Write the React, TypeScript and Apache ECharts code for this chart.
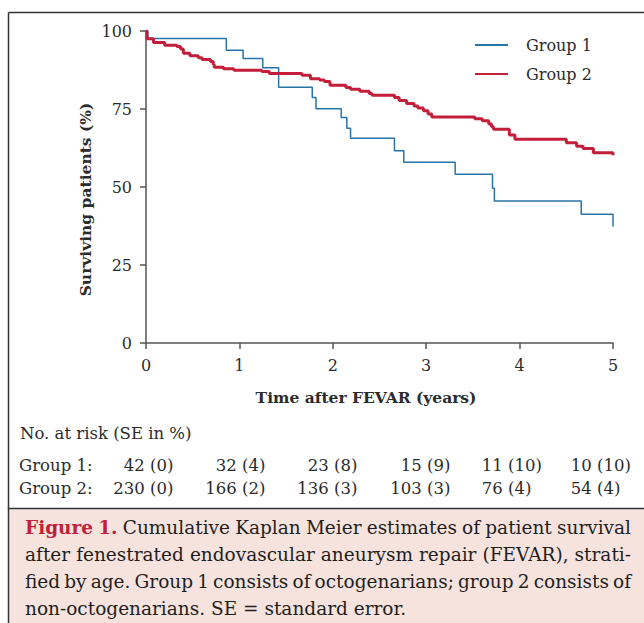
import React, { useEffect, useRef } from "react";
import * as echarts from "echarts";

// ---------- data ----------
const xTickValues = [0, 1, 2, 3, 4, 5];
const yTickValues = [0, 25, 50, 75, 100];
const seriesNames = ["Group 1", "Group 2"];

const group1Time = [0, 0.02, 0.86, 1.04, 1.25, 1.42, 1.78, 1.82, 2.09, 2.15, 2.19, 2.66, 2.76, 3.31, 3.71, 3.73, 4.66, 5.0];
const group1Surv = [100, 97.6, 93.8, 91.2, 88.2, 82.0, 78.7, 75.1, 72.3, 68.8, 65.6, 61.6, 57.9, 54.1, 49.6, 45.5, 41.3, 37.3];

const group2Time = [0, 0.01, 0.08, 0.2, 0.33, 0.37, 0.4, 0.47, 0.56, 0.6, 0.69, 0.72, 0.73, 0.83, 0.94, 1.24, 1.32, 1.67, 1.76, 1.86, 1.91, 1.97, 2.14, 2.19, 2.29, 2.39, 2.42, 2.66, 2.71, 2.79, 2.87, 2.91, 2.97, 3.02, 3.06, 3.52, 3.6, 3.67, 3.7, 3.72, 3.89, 3.95, 4.5, 4.61, 4.68, 4.79, 5.0];
const group2Surv = [100, 97.5, 96.3, 95.4, 95.0, 94.2, 92.9, 92.1, 91.4, 90.9, 90.2, 89.3, 88.4, 87.9, 87.4, 87.0, 86.4, 85.8, 84.7, 84.3, 83.8, 82.6, 81.9, 81.3, 80.7, 80.0, 79.4, 78.7, 77.7, 76.8, 76.0, 75.3, 74.4, 73.4, 72.4, 71.9, 71.2, 70.2, 69.3, 68.5, 66.7, 65.3, 64.2, 63.1, 62.3, 61.0, 60.2];

const riskTitle = "No. at risk (SE in %)";
const riskLabels = ["Group 1:", "Group 2:"];
const riskGroup1N = ["42", "32", "23", "15", "11", "10"];
const riskGroup1SE = ["(0)", "(4)", "(8)", "(9)", "(10)", "(10)"];
const riskGroup2N = ["230", "166", "136", "103", "76", "54"];
const riskGroup2SE = ["(0)", "(2)", "(3)", "(3)", "(4)", "(4)"];

const xTitle = "Time after FEVAR (years)";
const yTitle = "Surviving patients (%)";

const captionLead = "Figure 1.";
const captionLines = [
  "Cumulative Kaplan Meier estimates of patient survival",
  "after fenestrated endovascular aneurysm repair (FEVAR), strati-",
  "fied by age. Group 1 consists of octogenarians; group 2 consists of",
  "non-octogenarians. SE = standard error.",
];

// ---------- layout ----------
const W = 644;
const H = 623;
const GRID = { left: 146, top: 31, width: 467, height: 312 };
const TICK_FONT = "DejaVu Serif";
const BODY_FONT = "DejaVu Serif";
const BLUE = "#2674a8";
const RED = "#c31f3a";
const INK = "#2b2b2b";

const riskAnchors = [150, 242, 334, 427, 508, 597];

let ctx: CanvasRenderingContext2D | null = null;
function measure(text: string, font: string): number {
  if (!ctx) ctx = document.createElement("canvas").getContext("2d");
  if (!ctx) return text.length * 9;
  ctx.font = font;
  return ctx.measureText(text).width;
}

function buildGraphics(): any[] {
  const els: any[] = [];
  // outer frame
  els.push({ type: "line", shape: { x1: 8.5, y1: 12.5, x2: W, y2: 12.5 }, style: { stroke: "#333", lineWidth: 1.5 } });
  els.push({ type: "line", shape: { x1: 8.5, y1: 12.5, x2: 8.5, y2: 509 }, style: { stroke: "#333", lineWidth: 1.5 } });
  // caption box
  els.push({ type: "rect", shape: { x: 8.5, y: 508.5, width: W, height: 140 }, style: { fill: "#f6e3dd", stroke: "#333", lineWidth: 1.5 } });

  // axis titles
  els.push({
    type: "text", x: 366, y: 397,
    style: { text: xTitle, fontFamily: TICK_FONT, fontWeight: "bold", fontSize: 15.5, fill: INK, textAlign: "center", textVerticalAlign: "middle" },
  });
  els.push({
    type: "text", x: 85, y: 199.5, rotation: Math.PI / 2,
    style: { text: yTitle, fontFamily: TICK_FONT, fontWeight: "bold", fontSize: 15.5, fill: INK, textAlign: "center", textVerticalAlign: "middle" },
  });

  // risk table
  const tf = 16.5;
  const sp = measure(" ", `${tf}px "${BODY_FONT}"`);
  els.push({ type: "text", x: 20, y: 433, style: { text: riskTitle, fontFamily: BODY_FONT, fontSize: tf, fill: INK, textAlign: "left", textVerticalAlign: "middle" } });
  const rows = [
    { y: 465, label: riskLabels[0], n: riskGroup1N, se: riskGroup1SE },
    { y: 488, label: riskLabels[1], n: riskGroup2N, se: riskGroup2SE },
  ];
  rows.forEach((r) => {
    els.push({ type: "text", x: 19, y: r.y, style: { text: r.label, fontFamily: BODY_FONT, fontSize: tf, fill: INK, textAlign: "left", textVerticalAlign: "middle" } });
    r.n.forEach((n, i) => {
      const ax = riskAnchors[i];
      els.push({ type: "text", x: ax - sp, y: r.y, style: { text: n, fontFamily: BODY_FONT, fontSize: tf, fill: INK, textAlign: "right", textVerticalAlign: "middle" } });
      els.push({ type: "text", x: ax, y: r.y, style: { text: r.se[i], fontFamily: BODY_FONT, fontSize: tf, fill: INK, textAlign: "left", textVerticalAlign: "middle" } });
    });
  });

  // caption (justified)
  const cf = 18.5;
  const capLeft = 25;
  const capRight = 631;
  const capY0 = 527;
  const capLH = 27.3;
  captionLines.forEach((line, li) => {
    const words: { t: string; bold: boolean }[] = [];
    if (li === 0) captionLead.split(" ").forEach((t) => words.push({ t, bold: true }));
    line.split(" ").forEach((t) => words.push({ t, bold: false }));
    const fonts = words.map((w) => `${w.bold ? "bold " : ""}${cf}px "${BODY_FONT}"`);
    const widths = words.map((w, i) => measure(w.t, fonts[i]));
    const total = widths.reduce((a, b) => a + b, 0);
    const last = li === captionLines.length - 1;
    const gap = last ? measure(" ", `${cf}px "${BODY_FONT}"`) : (capRight - capLeft - total) / (words.length - 1);
    let x = capLeft;
    const y = capY0 + li * capLH;
    words.forEach((w, i) => {
      els.push({
        type: "text", x, y,
        style: {
          text: w.t, fontFamily: BODY_FONT, fontSize: cf, fontWeight: w.bold ? "bold" : "normal",
          fill: w.bold ? "#c0203a" : "#1e1e1e", textAlign: "left", textVerticalAlign: "middle",
        },
      });
      x += widths[i] + gap;
    });
  });
  return els;
}

export default function App() {
  const ref = useRef<HTMLDivElement>(null);
  useEffect(() => {
    if (!ref.current) return;
    const chart = echarts.init(ref.current, undefined, { renderer: "svg" });
    const d1 = group1Time.map((t, i) => [t, group1Surv[i]]);
    const d2 = group2Time.map((t, i) => [t, group2Surv[i]]);
    chart.setOption({
      animation: false,
      backgroundColor: "#ffffff",
      grid: { ...GRID, containLabel: false },
      legend: {
        orient: "vertical", left: 469, top: 32, itemWidth: 33, itemHeight: 14, itemGap: 13,
        data: seriesNames,
        itemStyle: { opacity: 0, borderWidth: 0 },
        textStyle: { fontFamily: TICK_FONT, fontSize: 16, color: INK, padding: [0, 0, 0, 13] },
      },
      xAxis: {
        type: "value", min: 0, max: 5, interval: 1,
        axisLine: { show: true, lineStyle: { color: "#555", width: 1.5 } },
        axisTick: { show: true, length: 6, lineStyle: { color: "#555", width: 1.5 } },
        axisLabel: { margin: 14, fontFamily: TICK_FONT, fontSize: 16, color: INK, formatter: (v: number) => (xTickValues.includes(v) ? String(v) : "") },
        splitLine: { show: false },
      },
      yAxis: {
        type: "value", min: 0, max: 100, interval: 25,
        axisLine: { show: true, lineStyle: { color: "#555", width: 1.5 } },
        axisTick: { show: true, length: 6, lineStyle: { color: "#555", width: 1.5 } },
        axisLabel: { margin: 14, fontFamily: TICK_FONT, fontSize: 16, color: INK, formatter: (v: number) => (yTickValues.includes(v) ? String(v) : "") },
        splitLine: { show: false },
      },
      series: [
        { name: seriesNames[0], type: "line", step: "end", data: d1, symbol: "none", lineStyle: { color: BLUE, width: 1.5 }, itemStyle: { color: BLUE }, z: 2 },
        { name: seriesNames[1], type: "line", step: "end", data: d2, symbol: "none", lineStyle: { color: RED, width: 3 }, itemStyle: { color: RED }, z: 3 },
      ],
      graphic: buildGraphics(),
    });
    return () => chart.dispose();
  }, []);
  return <div ref={ref} style={{ position: "fixed", left: 0, top: 0, width: W, height: H }} />;
}
